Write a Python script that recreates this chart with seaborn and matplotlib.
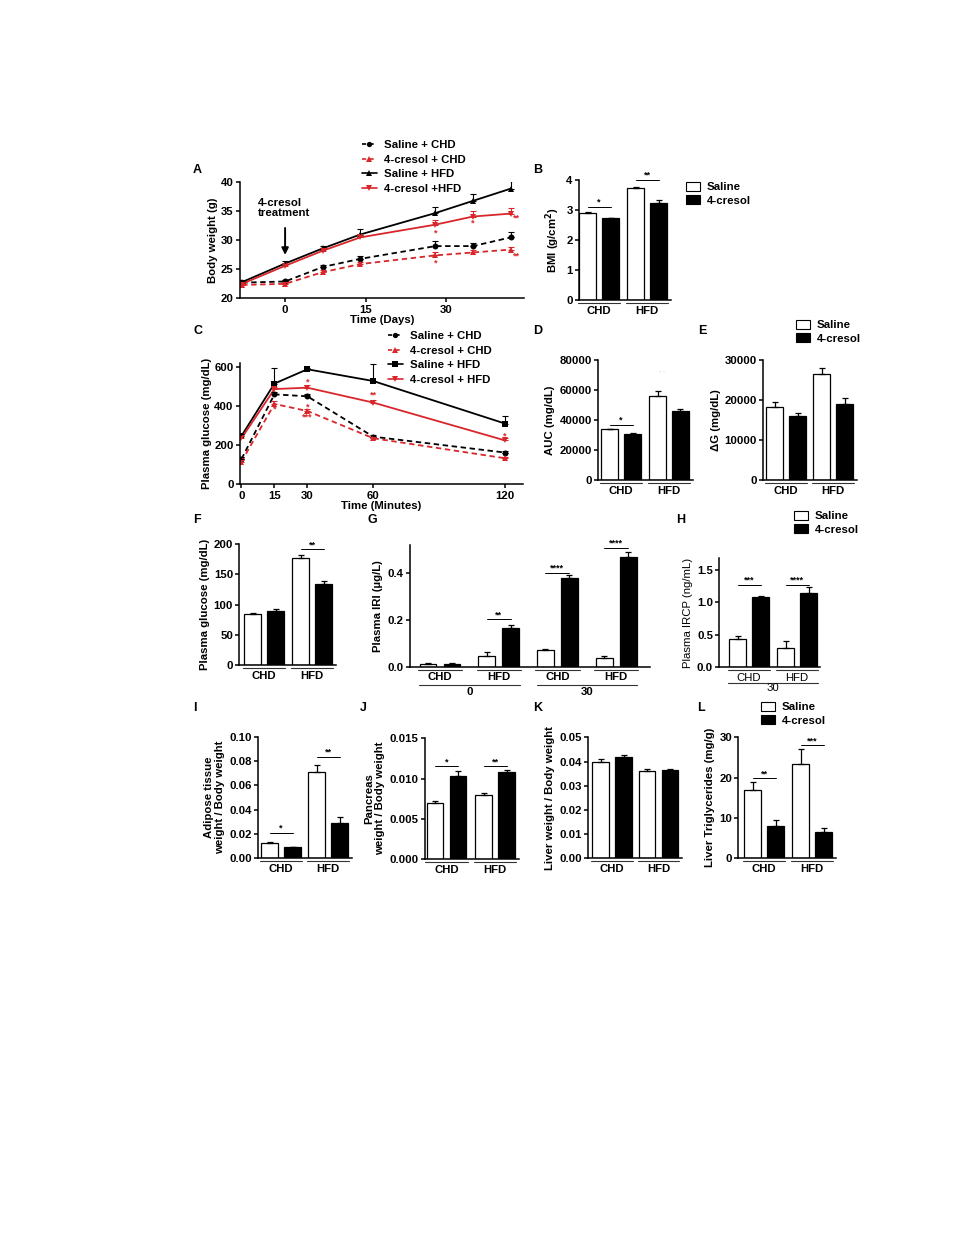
import numpy as np
import pandas as pd
import matplotlib
matplotlib.use('Agg')
import matplotlib.pyplot as plt
import matplotlib.transforms as mtransforms
from matplotlib.patches import Patch
from matplotlib.lines import Line2D
import seaborn as sns

sns.set_style('ticks')
plt.rcParams['font.family'] = ['Liberation Sans', 'DejaVu Sans']
plt.rcParams['font.weight'] = 'bold'
plt.rcParams['axes.labelweight'] = 'bold'
plt.rcParams['font.size'] = 8.2
plt.rcParams['axes.edgecolor'] = 'black'
plt.rcParams['axes.labelcolor'] = 'black'
plt.rcParams['text.color'] = 'black'
plt.rcParams['xtick.color'] = 'black'
plt.rcParams['ytick.color'] = 'black'

FS = 8.2
RED = '#d8262b'

# ---- A: body weight ----
days = [-8, 0, 7, 14, 28, 35, 42]
bw_saline_chd = [22.7, 22.9, 25.4, 26.8, 29.0, 29.0, 30.5]
bw_cresol_chd = [22.3, 22.5, 24.5, 25.9, 27.4, 27.9, 28.4]
bw_saline_hfd = [22.8, 26.0, 28.6, 31.0, 34.7, 36.8, 38.9]
bw_cresol_hfd = [22.5, 25.6, 28.2, 30.5, 32.7, 34.1, 34.6]
bw_err_saline_chd = [0.3, 0.3, 0.4, 0.5, 0.8, 0.5, 0.9]
bw_err_cresol_chd = [0.3, 0.3, 0.3, 0.3, 0.5, 0.4, 0.4]
bw_err_saline_hfd = [0.3, 0.5, 0.5, 0.9, 1.0, 1.2, 1.3]
bw_err_cresol_hfd = [0.3, 0.4, 0.5, 0.5, 0.8, 1.0, 1.0]
labels_a = ['Saline + CHD', '4-cresol + CHD', 'Saline + HFD', '4-cresol +HFD']

# ---- C: glucose tolerance ----
minutes = [0, 15, 30, 60, 120]
gl_saline_chd = [129, 459, 449, 243, 162]
gl_cresol_chd = [116, 410, 374, 235, 133]
gl_saline_hfd = [247, 514, 587, 527, 310]
gl_cresol_hfd = [235, 486, 493, 417, 224]
gl_err_saline_chd = [8, 10, 10, 8, 8]
gl_err_cresol_chd = [8, 15, 10, 8, 6]
gl_err_saline_hfd = [10, 80, 8, 85, 40]
gl_err_cresol_hfd = [10, 12, 12, 12, 10]
labels_c = ['Saline + CHD', '4-cresol + CHD', 'Saline + HFD', '4-cresol + HFD']

diets = ['CHD', 'HFD']
treatments = ['Saline', '4-cresol']

# ---- bar panels: saline values, cresol values, errors ----
bmi_sal, bmi_cre = [2.90, 3.72], [2.72, 3.25]
bmi_es, bmi_ec = [0.05, 0.06], [0.01, 0.08]

auc_sal, auc_cre = [33800, 55800], [30700, 46000]
auc_es, auc_ec = [400, 3800], [500, 1200]

dg_sal, dg_cre = [18300, 26500], [16000, 19000]
dg_es, dg_ec = [1200, 1600], [700, 1600]

fg_sal, fg_cre = [85, 178], [89, 134]
fg_es, fg_ec = [1.5, 5], [3, 5]

iri_groups = ['0 CHD', '0 HFD', '30 CHD', '30 HFD']
iri_labels = ['CHD', 'HFD', 'CHD', 'HFD']
iri_sal, iri_cre = [0.012, 0.048, 0.070, 0.038], [0.012, 0.168, 0.380, 0.470]
iri_es, iri_ec = [0.002, 0.017, 0.007, 0.008], [0.003, 0.009, 0.012, 0.022]

ircp_sal, ircp_cre = [0.44, 0.30], [1.08, 1.14]
ircp_es, ircp_ec = [0.05, 0.10], [0.02, 0.09]

adi_sal, adi_cre = [0.0125, 0.071], [0.009, 0.029]
adi_es, adi_ec = [0.001, 0.006], [0.0003, 0.005]

pan_sal, pan_cre = [0.0069, 0.0080], [0.0103, 0.0108]
pan_es, pan_ec = [0.0003, 0.0002], [0.0006, 0.0003]

liv_sal, liv_cre = [0.040, 0.036], [0.042, 0.0363]
liv_es, liv_ec = [0.001, 0.0008], [0.0007, 0.0008]

tg_sal, tg_cre = [17.0, 23.5], [8.0, 6.6]
tg_es, tg_ec = [1.8, 3.6], [1.4, 0.8]

W, H = 969, 1254
fig = plt.figure(figsize=(W / 100, H / 100), dpi=100)


def add_ax(left, right, top, bottom):
    return fig.add_axes([left / W, 1 - bottom / H, (right - left) / W, (bottom - top) / H])


def prism(ax):
    sns.despine(ax=ax)
    for s in ['left', 'bottom']:
        ax.spines[s].set_linewidth(1.1)
    ax.tick_params(direction='out', length=3, width=1.1, pad=1.5, labelsize=FS)


def star(ax, x1, x2, y, s, size=6.5):
    ax.plot([x1, x2], [y, y], color='black', lw=0.7)
    ax.text((x1 + x2) / 2, y, s, ha='center', va='bottom', fontsize=size)


def line_panel(ax, x, series, errs, names, colors, markers, dashes):
    df = pd.DataFrame({'x': np.tile(x, len(series)),
                       'y': np.concatenate(series),
                       'g': np.repeat(names, len(x))})
    sns.lineplot(data=df, x='x', y='y', hue='g', style='g', hue_order=names, style_order=names,
                 palette=dict(zip(names, colors)), markers=dict(zip(names, markers)),
                 dashes=dict(zip(names, dashes)), markersize=4.3, markeredgewidth=0,
                 linewidth=1.3, errorbar=None, legend=False, ax=ax)
    for s, e, c in zip(series, errs, colors):
        ax.errorbar(x, s, yerr=[np.zeros(len(e)), e], fmt='none', ecolor=c,
                    elinewidth=0.8, capsize=2, capthick=0.8)
    handles = [Line2D([], [], color=c, marker=m, markersize=3.8, markeredgewidth=0, lw=1.2,
                      linestyle='--' if d else '-')
               for c, m, d in zip(colors, markers, dashes)]
    for h, d in zip(handles, dashes):
        if d:
            h.set_dashes((2.5, 2))
    prism(ax)
    return handles


def line_legend(ax, handles, names, x_px, y_px):
    ax.legend(handles, names, loc='upper left', bbox_to_anchor=(x_px / W, 1 - y_px / H),
              bbox_transform=fig.transFigure, frameon=False, fontsize=FS, handlelength=1.3,
              handletextpad=0.6, labelspacing=0.4, borderpad=0, borderaxespad=0, numpoints=1)


def bar_panel(left, top, bottom, c0, step, ymax, yticks, ytlabels, groups, sal, cre, es, ec,
              ylabel, xmax=1.5, inner=23, xlabels=None, plain=False):
    xmin = (left - c0) / step
    ax = add_ax(left, c0 + xmax * step, top, bottom)
    n = len(groups)
    df = pd.DataFrame({'group': groups * 2,
                       'treat': ['Saline'] * n + ['4-cresol'] * n,
                       'value': sal + cre})
    w = 2 * inner / step
    sns.barplot(data=df, x='group', y='value', hue='treat', order=groups, hue_order=treatments,
                palette={'Saline': 'white', '4-cresol': 'black'}, edgecolor='black',
                linewidth=0.9, width=w, gap=0.3, saturation=1, errorbar=None, legend=False, ax=ax)
    bars = sorted(ax.patches, key=lambda p: p.get_x())
    xs = [p.get_x() + p.get_width() / 2 for p in bars]
    hs = [p.get_height() for p in bars]
    errs = [v for pair in zip(es, ec) for v in pair]
    ax.errorbar(xs, hs, yerr=[np.zeros(len(errs)), errs], fmt='none', ecolor='black',
                elinewidth=0.9, capsize=2.5, capthick=0.9)
    ax.set_xlim(xmin, xmax)
    ax.set_ylim(0, ymax)
    ax.set_yticks(yticks)
    ax.set_yticklabels(ytlabels)
    ax.set_xlabel('')
    ax.set_ylabel(ylabel, labelpad=3, fontweight='normal' if plain else 'bold')
    prism(ax)
    ax.tick_params(axis='x', length=0, pad=4)
    ax.set_xticks(range(n))
    ax.set_xticklabels(xlabels if xlabels else groups, fontweight='normal' if plain else 'bold')
    trans = mtransforms.offset_copy(ax.get_xaxis_transform(), fig=fig, y=-3, units='dots')
    for i in range(n):
        x0 = bars[2 * i].get_x()
        x1 = bars[2 * i + 1].get_x() + bars[2 * i + 1].get_width()
        ax.plot([x0 - 0.03, x1 + 0.03], [0, 0], transform=trans, clip_on=False,
                color='#333333', lw=0.8)
    return ax, xs


def bar_legend(x_px, y_px):
    handles = [Patch(facecolor='white', edgecolor='black', lw=0.8, label='Saline'),
               Patch(facecolor='black', edgecolor='black', lw=0.8, label='4-cresol')]
    fig.legend(handles=handles, loc='upper left', bbox_to_anchor=(x_px / W, 1 - y_px / H),
               frameon=False, fontsize=FS, handlelength=1.2, handleheight=0.85,
               handletextpad=0.6, labelspacing=0.25, borderpad=0, borderaxespad=0)


def letter(x, y, s):
    fig.text(x / W, 1 - y / H, s, fontsize=9, fontweight='bold', va='center', ha='left')


# ---------------- A ----------------
axA = add_ax(240, 524, 182.3, 298.3)
hA = line_panel(axA, days, [bw_saline_chd, bw_cresol_chd, bw_saline_hfd, bw_cresol_hfd],
                [bw_err_saline_chd, bw_err_cresol_chd, bw_err_saline_hfd, bw_err_cresol_hfd],
                labels_a, ['black', RED, 'black', RED], ['o', '^', '^', 'v'],
                [(3, 2), (3, 2), '', ''])
axA.set_xlim(-8.4, 44.5)
axA.set_ylim(20, 40)
axA.set_xticks([0, 15, 30])
axA.set_yticks([20, 25, 30, 35, 40])
axA.set_xlabel('Time (Days)', labelpad=0)
axA.set_ylabel('Body weight (g)', labelpad=2)
axA.annotate('', xy=(0, 27.0), xytext=(0, 32.6),
             arrowprops=dict(arrowstyle='-|>', color='black', lw=1.4, mutation_scale=10))
axA.text(-5.0, 33.9, '4-cresol\ntreatment', ha='left', va='bottom', linespacing=1.0)
for xx, yy, s in [(28, 31.3, '*'), (35, 32.9, '*'), (43.0, 33.8, '**'),
                  (28, 26.1, '*'), (43.0, 27.2, '**')]:
    axA.text(xx, yy, s, color=RED, ha='center', va='center', fontsize=6.5)
line_legend(axA, hA, labels_a, 362, 140)

# ---------------- B ----------------
axB, xB = bar_panel(579, 180, 300, 599, 48, 4, [0, 1, 2, 3, 4], ['0', '1', '2', '3', '4'],
                    diets, bmi_sal, bmi_cre, bmi_es, bmi_ec, 'BMI (g/cm$^\\mathbf{2}$)')
star(axB, xB[0], xB[1], 3.11, '*')
star(axB, xB[2], xB[3], 4.0, '**')
bar_legend(686, 182)

# ---------------- C ----------------
axC = add_ax(240, 523, 362.8, 484.3)
hC = line_panel(axC, minutes, [gl_saline_chd, gl_cresol_chd, gl_saline_hfd, gl_cresol_hfd],
                [gl_err_saline_chd, gl_err_cresol_chd, gl_err_saline_hfd, gl_err_cresol_hfd],
                labels_c, ['black', RED, 'black', RED], ['o', '^', 's', 'v'],
                [(3, 2), (3, 2), '', ''])
axC.set_xlim(-0.68, 128.2)
axC.set_ylim(0, 620)
axC.set_xticks([0, 15, 30, 60, 120])
axC.set_yticks([0, 200, 400, 600])
axC.set_xlabel('Time (Minutes)', labelpad=0)
axC.set_ylabel('Plasma glucose (mg/dL)', labelpad=2)
for xx, yy, s in [(30, 520, '*'), (60, 455, '**'), (120, 248, '*'),
                  (15, 385, '*'), (30, 394, '*'), (30, 343, '***')]:
    axC.text(xx, yy, s, color=RED, ha='center', va='center', fontsize=6.5)
line_legend(axC, hC, labels_c, 388, 331)

# ---------------- D ----------------
axD, xD = bar_panel(598, 360, 480, 621, 48, 80000, [0, 20000, 40000, 60000, 80000],
                    ['0', '20000', '40000', '60000', '80000'],
                    diets, auc_sal, auc_cre, auc_es, auc_ec, 'AUC (mg/dL)')
star(axD, xD[0], xD[1], 36700, '*')
axD.text((xD[2] + xD[3]) / 2 - 0.15, 70500, '. .', ha='center', va='bottom', fontsize=5,
         color='#bbbbbb')

# ---------------- E ----------------
axE, xE = bar_panel(763.3, 360, 480, 786, 47, 30000, [0, 10000, 20000, 30000],
                    ['0', '10000', '20000', '30000'],
                    diets, dg_sal, dg_cre, dg_es, dg_ec, '\u0394G (mg/dL)')
bar_legend(796, 320)

# ---------------- F ----------------
axF, xF = bar_panel(239.3, 544.3, 665, 264, 48, 200, [0, 50, 100, 150, 200],
                    ['0', '50', '100', '150', '200'],
                    diets, fg_sal, fg_cre, fg_es, fg_ec, 'Plasma glucose (mg/dL)')
star(axF, xF[2], xF[3], 192, '**')

# ---------------- G ----------------
axG, xG = bar_panel(410, 545.4, 666.7, 440, 58.7, 0.52, [0.0, 0.2, 0.4], ['0.0', '0.2', '0.4'],
                    iri_groups, iri_sal, iri_cre, iri_es, iri_ec, 'Plasma IRI (\u00b5g/L)',
                    xmax=3.58, inner=24, xlabels=iri_labels)
star(axG, xG[2], xG[3], 0.204, '**')
star(axG, xG[4], xG[5], 0.403, '****')
star(axG, xG[6], xG[7], 0.51, '****')
transG = mtransforms.offset_copy(axG.get_xaxis_transform(), fig=fig, y=-18, units='dots')
transGt = mtransforms.offset_copy(axG.get_xaxis_transform(), fig=fig, y=-20, units='dots')
for lo, hi, lab in [(0, 3, '0'), (4, 7, '30')]:
    axG.plot([xG[lo] - 0.15, xG[hi] + 0.15], [0, 0], transform=transG, clip_on=False,
             color='#333333', lw=0.8)
    axG.text((xG[lo] + xG[hi]) / 2, 0, lab, transform=transGt, ha='center', va='top')

# ---------------- H ----------------
axH, xH = bar_panel(719.3, 558.3, 667.3, 749, 48, 1.68, [0.0, 0.5, 1.0, 1.5],
                    ['0.0', '0.5', '1.0', '1.5'],
                    diets, ircp_sal, ircp_cre, ircp_es, ircp_ec, 'Plasma IRCP (ng/mL)',
                    xmax=1.48, plain=True)
star(axH, xH[0], xH[1], 1.27, '***')
star(axH, xH[2], xH[3], 1.27, '****')
transH = mtransforms.offset_copy(axH.get_xaxis_transform(), fig=fig, y=-16, units='dots')
transHt = mtransforms.offset_copy(axH.get_xaxis_transform(), fig=fig, y=-16, units='dots')
axH.plot([xH[0] - 0.2, xH[3] + 0.2], [0, 0], transform=transH, clip_on=False,
         color='#333333', lw=0.8)
axH.text((xH[0] + xH[3]) / 2, 0, '30', transform=transHt, ha='center', va='top',
         fontweight='normal')
bar_legend(794, 511)

# ---------------- I ----------------
axI, xI = bar_panel(258.3, 736.7, 858.3, 281, 47, 0.10, [0, 0.02, 0.04, 0.06, 0.08, 0.10],
                    ['0.00', '0.02', '0.04', '0.06', '0.08', '0.10'],
                    diets, adi_sal, adi_cre, adi_es, adi_ec, 'Adipose tissue\nweight / Body weight')
star(axI, xI[0], xI[1], 0.021, '*')
star(axI, xI[2], xI[3], 0.0836, '**')

# ---------------- J ----------------
axJ, xJ = bar_panel(425, 738.3, 859, 446.5, 48.5, 0.015, [0, 0.005, 0.010, 0.015],
                    ['0.000', '0.005', '0.010', '0.015'],
                    diets, pan_sal, pan_cre, pan_es, pan_ec, 'Pancreas\nweight / Body weight')
star(axJ, xJ[0], xJ[1], 0.0115, '*')
star(axJ, xJ[2], xJ[3], 0.0115, '**')

# ---------------- K ----------------
axK, xK = bar_panel(588.3, 737.3, 858.3, 612, 46.5, 0.05, [0, 0.01, 0.02, 0.03, 0.04, 0.05],
                    ['0.00', '0.01', '0.02', '0.03', '0.04', '0.05'],
                    diets, liv_sal, liv_cre, liv_es, liv_ec, 'Liver weight / Body weight')

# ---------------- L ----------------
axL, xL = bar_panel(738.3, 737.3, 858.3, 764, 48, 30, [0, 10, 20, 30], ['0', '10', '20', '30'],
                    diets, tg_sal, tg_cre, tg_es, tg_ec, 'Liver Triglycerides (mg/g)')
star(axL, xL[0], xL[1], 19.8, '**')
star(axL, xL[2], xL[3], 28.0, '***')
bar_legend(761, 702)

for x, y, s in [(193, 170, 'A'), (533, 170, 'B'), (193, 331, 'C'), (533, 331, 'D'),
                (698, 331, 'E'), (193, 520, 'F'), (367, 520, 'G'), (676, 520, 'H'),
                (193, 708, 'I'), (360, 708, 'J'), (533, 708, 'K'), (697, 708, 'L')]:
    letter(x, y, s)

fig.savefig('out.png', dpi=100)
